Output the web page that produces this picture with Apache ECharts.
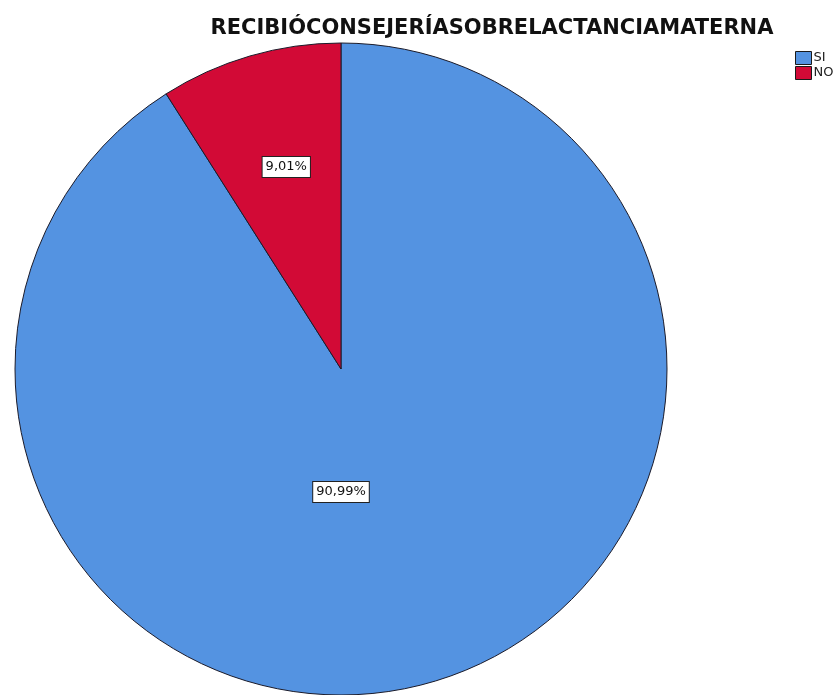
<!DOCTYPE html>
<html>
<head>
<meta charset="utf-8">
<script src="https://cdn.jsdelivr.net/npm/echarts@6/dist/echarts.min.js"></script>
<style>
  html, body { margin: 0; padding: 0; background: #ffffff; }
  #chart { width: 840px; height: 695px; }
</style>
</head>
<body>
<div id="chart"></div>
<script>
// Pie data: share of mothers who received breastfeeding counselling
const categories = ['SI', 'NO'];
const percentages = [90.99, 9.01];
const sliceColors = ['#5493e1', '#d20a36'];

const CENTER = [341, 369];
const RADIUS = 326;

const chart = echarts.init(document.getElementById('chart'), null, { renderer: 'canvas' });

const fmt = v => v.toFixed(2).replace('.', ',') + '%';

chart.setOption({
  animation: false,
  backgroundColor: '#ffffff',
  title: {
    text: 'RECIBIÓCONSEJERÍASOBRELACTANCIAMATERNA',
    left: 487,
    textAlign: 'center',
    top: 13,
    textStyle: {
      fontFamily: 'DejaVu Sans, sans-serif',
      fontWeight: 'bold',
      fontSize: 21,
      color: '#111111'
    }
  },
  legend: {
    orient: 'vertical',
    left: 790,
    top: 46,
    itemWidth: 16,
    itemHeight: 13,
    itemGap: 1,
    icon: 'rect',
    data: categories,
    textStyle: {
      fontFamily: 'DejaVu Sans, sans-serif',
      fontSize: 13,
      color: '#222222',
      padding: [0, 0, 0, -3]
    },
    itemStyle: { borderColor: '#1a1a1a', borderWidth: 1 }
  },
  series: [{
    type: 'pie',
    center: CENTER,
    radius: RADIUS,
    startAngle: 90,
    clockwise: true,
    data: categories.map((c, i) => ({
      name: c,
      value: percentages[i],
      itemStyle: { color: sliceColors[i] }
    })),
    itemStyle: { borderColor: '#1b1b2a', borderWidth: 1 },
    label: {
      show: true,
      position: 'inside',
      formatter: p => fmt(p.value),
      fontFamily: 'DejaVu Sans, sans-serif',
      fontSize: 13,
      color: '#111111',
      backgroundColor: '#ffffff',
      borderColor: '#222222',
      borderWidth: 1,
      padding: [4, 3, 3, 3]
    },
    labelLayout: function (params) {
      // place each label on a radial line from the pie centre
      if (params.dataIndex === 0) {
        return { x: CENTER[0], y: CENTER[1] + RADIUS * 0.377, align: 'center', verticalAlign: 'middle' };
      }
      const ang = (360 * percentages[1] / 100) / 2 * Math.PI / 180;
      const d = RADIUS * 0.645;
      return {
        x: CENTER[0] - d * Math.sin(ang) + 4,
        y: CENTER[1] - d * Math.cos(ang),
        align: 'center',
        verticalAlign: 'middle'
      };
    },
    labelLine: { show: false },
    emphasis: { disabled: true }
  }]
});
</script>
</body>
</html>
